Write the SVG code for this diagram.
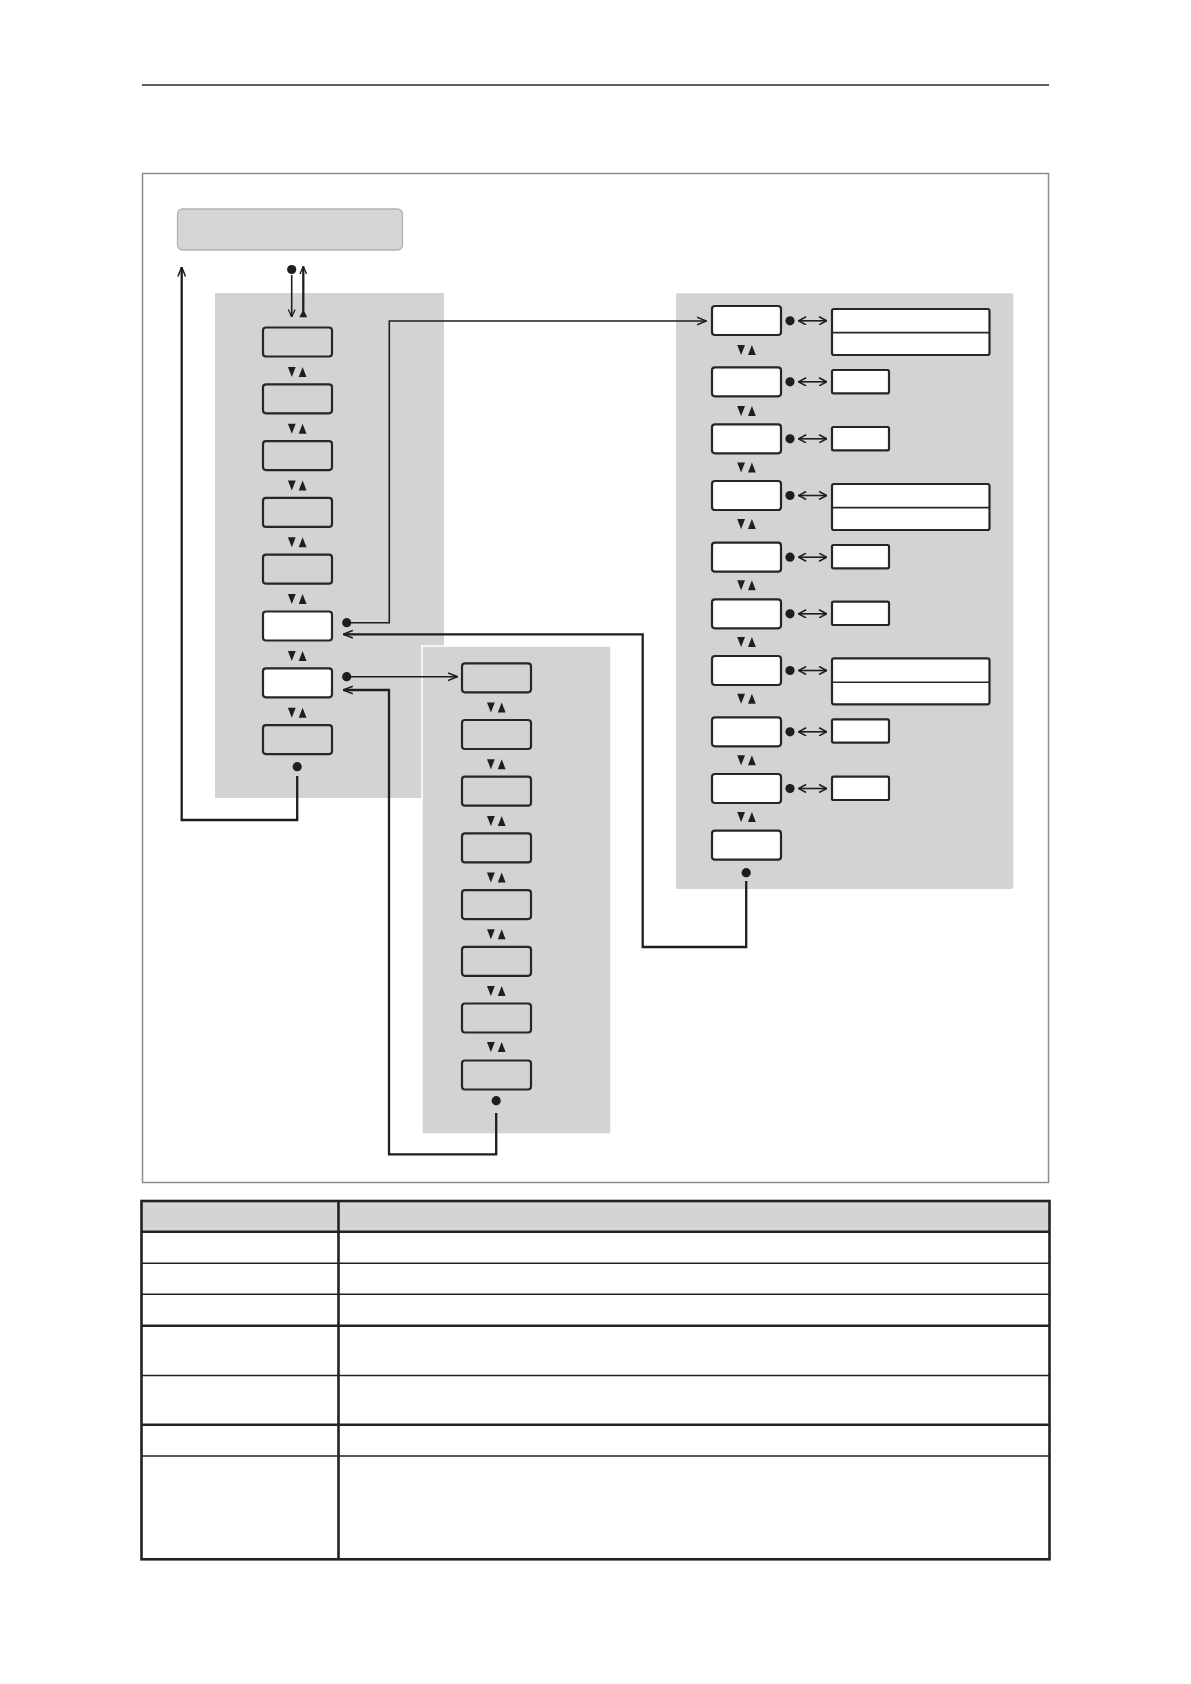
<svg xmlns="http://www.w3.org/2000/svg" xmlns:xlink="http://www.w3.org/1999/xlink" width="1191" height="1684" viewBox="0 0 1191 1684">
<style>
.panel{fill:#d3d3d3;}
.box{fill:#d3d3d3;stroke:#262626;stroke-width:2.2;}
.wbox{fill:#ffffff;stroke:#262626;stroke-width:2.2;}
.opt{fill:#ffffff;stroke:#262626;stroke-width:2.2;}
.ln{fill:none;stroke:#1e1e1e;stroke-width:1.6;}
.lnb{fill:none;stroke:#1e1e1e;stroke-width:2.3;}
.dot{fill:#1e1e1e;}
.tri{fill:#1e1e1e;}
.tl{stroke:#222;stroke-width:1.6;fill:none;}
.tb{stroke:#222;stroke-width:2.6;fill:none;}
</style>
<defs>
<marker id="chev" viewBox="0 0 10 10" refX="9.5" refY="5" markerWidth="10" markerHeight="10" markerUnits="userSpaceOnUse" orient="auto-start-reverse">
<path d="M0,1.2 L9.5,5 L0,8.8" fill="none" stroke="#1e1e1e" stroke-width="1.5"/>
</marker>
<marker id="chevs" viewBox="0 0 10 10" refX="9.5" refY="5" markerWidth="8" markerHeight="8" markerUnits="userSpaceOnUse" orient="auto-start-reverse">
<path d="M0,0.8 L9.5,5 L0,9.2" fill="none" stroke="#1e1e1e" stroke-width="1.7"/>
</marker>
<marker id="chevd" viewBox="0 0 10 10" refX="9.5" refY="5" markerWidth="9" markerHeight="9" markerUnits="userSpaceOnUse" orient="auto-start-reverse">
<path d="M1,0.5 L9.5,5 L1,9.5" fill="none" stroke="#1e1e1e" stroke-width="1.7"/>
</marker>
<g id="ud">
<polygon class="tri" points="-9.3,-5 -1.5,-5 -5.4,5"/>
<polygon class="tri" points="1.5,5 9.3,5 5.4,-5"/>
</g>
</defs>
<rect width="1191" height="1684" fill="#ffffff"/>
<line x1="142" y1="85" x2="1049" y2="85" stroke="#2a2a2a" stroke-width="1.3"/>
<rect x="142.5" y="173.5" width="906" height="1009" fill="none" stroke="#8c8c8c" stroke-width="1.5"/>

<g id="header">
<rect x="177.5" y="209" width="225" height="41" rx="5" fill="#d5d5d5" stroke="#b3b3b3" stroke-width="1.3"/>
</g>

<g id="panels">
<rect id="panel-left" class="panel" x="215" y="293" width="229" height="505"/>
<rect id="panel-mid" class="panel" x="422" y="646" width="189" height="488" stroke="#ffffff" stroke-width="1.5"/>
<rect id="panel-right" class="panel" x="676" y="293.3" width="337.3" height="595.7" rx="2"/>
</g>

<g id="left-column">
<g id="L1"><rect class="box" x="263" y="327.5" width="69" height="29" rx="3"/></g>
<g id="L2"><rect class="box" x="263" y="384.3" width="69" height="29" rx="3"/></g>
<g id="L3"><rect class="box" x="263" y="441.1" width="69" height="29" rx="3"/></g>
<g id="L4"><rect class="box" x="263" y="497.9" width="69" height="29" rx="3"/></g>
<g id="L5"><rect class="box" x="263" y="554.7" width="69" height="29" rx="3"/></g>
<g id="L6"><rect class="wbox" x="263" y="611.5" width="69" height="29" rx="3"/></g>
<g id="L7"><rect class="wbox" x="263" y="668.3" width="69" height="29" rx="3"/></g>
<g id="L8"><rect class="box" x="263" y="725.1" width="69" height="29" rx="3"/></g>
<use href="#ud" x="297.2" y="371.9"/>
<use href="#ud" x="297.2" y="428.7"/>
<use href="#ud" x="297.2" y="485.5"/>
<use href="#ud" x="297.2" y="542.3"/>
<use href="#ud" x="297.2" y="599.1"/>
<use href="#ud" x="297.2" y="655.9"/>
<use href="#ud" x="297.2" y="712.7"/>
</g>

<g id="mid-column">
<g id="M1"><rect class="box" x="462" y="663.3" width="69" height="29" rx="3"/></g>
<g id="M2"><rect class="box" x="462" y="720" width="69" height="29" rx="3"/></g>
<g id="M3"><rect class="box" x="462" y="776.7" width="69" height="29" rx="3"/></g>
<g id="M4"><rect class="box" x="462" y="833.4" width="69" height="29" rx="3"/></g>
<g id="M5"><rect class="box" x="462" y="890.1" width="69" height="29" rx="3"/></g>
<g id="M6"><rect class="box" x="462" y="946.8" width="69" height="29" rx="3"/></g>
<g id="M7"><rect class="box" x="462" y="1003.5" width="69" height="29" rx="3"/></g>
<g id="M8"><rect class="box" x="462" y="1060.5" width="69" height="29" rx="3"/></g>
<use href="#ud" x="496.3" y="707.5"/>
<use href="#ud" x="496.3" y="764.2"/>
<use href="#ud" x="496.3" y="820.9"/>
<use href="#ud" x="496.3" y="877.6"/>
<use href="#ud" x="496.3" y="934.3"/>
<use href="#ud" x="496.3" y="991"/>
<use href="#ud" x="496.3" y="1047"/>
</g>

<g id="right-column">
<g id="R1"><rect class="wbox" x="712" y="306" width="69" height="29" rx="3"/></g>
<g id="R2"><rect class="wbox" x="712" y="367.3" width="69" height="29" rx="3"/></g>
<g id="R3"><rect class="wbox" x="712" y="424.3" width="69" height="29" rx="3"/></g>
<g id="R4"><rect class="wbox" x="712" y="481" width="69" height="29" rx="3"/></g>
<g id="R5"><rect class="wbox" x="712" y="542.7" width="69" height="29" rx="3"/></g>
<g id="R6"><rect class="wbox" x="712" y="599.3" width="69" height="29" rx="3"/></g>
<g id="R7"><rect class="wbox" x="712" y="656" width="69" height="29" rx="3"/></g>
<g id="R8"><rect class="wbox" x="712" y="717.3" width="69" height="29" rx="3"/></g>
<g id="R9"><rect class="wbox" x="712" y="774" width="69" height="29" rx="3"/></g>
<g id="R10"><rect class="wbox" x="712" y="830.7" width="69" height="29" rx="3"/></g>
<use href="#ud" x="746.5" y="350"/>
<use href="#ud" x="746.5" y="411"/>
<use href="#ud" x="746.5" y="467.5"/>
<use href="#ud" x="746.5" y="524"/>
<use href="#ud" x="746.5" y="585.3"/>
<use href="#ud" x="746.5" y="642"/>
<use href="#ud" x="746.5" y="698.7"/>
<use href="#ud" x="746.5" y="760.3"/>
<use href="#ud" x="746.5" y="817"/>
</g>

<g id="options">
<g id="O1"><rect class="opt" x="832" y="309" width="157.5" height="46" rx="2"/><line x1="832" y1="332.7" x2="989.5" y2="332.7" stroke="#262626" stroke-width="1.8"/></g>
<g id="O2"><rect class="opt" x="832" y="370" width="57" height="23.3" rx="1.5"/></g>
<g id="O3"><rect class="opt" x="832" y="427" width="57" height="23.3" rx="1.5"/></g>
<g id="O4"><rect class="opt" x="832" y="484" width="157.5" height="46" rx="2"/><line x1="832" y1="507.7" x2="989.5" y2="507.7" stroke="#262626" stroke-width="1.8"/></g>
<g id="O5"><rect class="opt" x="832" y="545" width="57" height="23.3" rx="1.5"/></g>
<g id="O6"><rect class="opt" x="832" y="601.7" width="57" height="23.3" rx="1.5"/></g>
<g id="O7"><rect class="opt" x="832" y="658.3" width="157.5" height="46" rx="2"/><line x1="832" y1="682.3" x2="989.5" y2="682.3" stroke="#262626" stroke-width="1.4"/></g>
<g id="O8"><rect class="opt" x="832" y="719.3" width="57" height="23.3" rx="1.5"/></g>
<g id="O9"><rect class="opt" x="832" y="776.7" width="57" height="23.3" rx="1.5"/></g>
</g>

<g id="connectors">
<circle class="dot" cx="291.7" cy="269.5" r="4.6"/>
<line class="ln" x1="291.7" y1="275" x2="291.7" y2="317" marker-end="url(#chevs)"/>
<polygon class="tri" points="299.3,317.3 307.3,317.3 303.3,309.5"/>
<line class="lnb" x1="303.3" y1="311" x2="303.3" y2="266.5" marker-end="url(#chevs)"/>
<circle class="dot" cx="297.2" cy="766.7" r="4.6"/>
<path class="lnb" d="M297.2,776 V820 H181.7 V267" marker-end="url(#chev)"/>
<circle class="dot" cx="346.7" cy="622.7" r="4.6"/>
<path class="ln" d="M351,622.7 H389.3 V321 H706.5" marker-end="url(#chev)"/>
<circle class="dot" cx="746.2" cy="872.7" r="4.6"/>
<path class="lnb" d="M746.2,881 V947 H642.7 V634.3 H343.3" marker-end="url(#chev)"/>
<circle class="dot" cx="346.7" cy="676.7" r="4.6"/>
<path class="ln" d="M351,676.7 H457.5" marker-end="url(#chev)"/>
<circle class="dot" cx="496.2" cy="1100.7" r="4.6"/>
<path class="lnb" d="M496.2,1113 V1154.3 H389 V690 H343.3" marker-end="url(#chev)"/>
<circle class="dot" cx="790" cy="320.8" r="4.6"/>
<line class="ln" x1="798.5" y1="320.8" x2="826.7" y2="320.8" marker-start="url(#chevd)" marker-end="url(#chevd)"/>
<circle class="dot" cx="790" cy="381.8" r="4.6"/>
<line class="ln" x1="798.5" y1="381.8" x2="826.7" y2="381.8" marker-start="url(#chevd)" marker-end="url(#chevd)"/>
<circle class="dot" cx="790" cy="438.8" r="4.6"/>
<line class="ln" x1="798.5" y1="438.8" x2="826.7" y2="438.8" marker-start="url(#chevd)" marker-end="url(#chevd)"/>
<circle class="dot" cx="790" cy="495.5" r="4.6"/>
<line class="ln" x1="798.5" y1="495.5" x2="826.7" y2="495.5" marker-start="url(#chevd)" marker-end="url(#chevd)"/>
<circle class="dot" cx="790" cy="557.2" r="4.6"/>
<line class="ln" x1="798.5" y1="557.2" x2="826.7" y2="557.2" marker-start="url(#chevd)" marker-end="url(#chevd)"/>
<circle class="dot" cx="790" cy="613.8" r="4.6"/>
<line class="ln" x1="798.5" y1="613.8" x2="826.7" y2="613.8" marker-start="url(#chevd)" marker-end="url(#chevd)"/>
<circle class="dot" cx="790" cy="670.5" r="4.6"/>
<line class="ln" x1="798.5" y1="670.5" x2="826.7" y2="670.5" marker-start="url(#chevd)" marker-end="url(#chevd)"/>
<circle class="dot" cx="790" cy="731.8" r="4.6"/>
<line class="ln" x1="798.5" y1="731.8" x2="826.7" y2="731.8" marker-start="url(#chevd)" marker-end="url(#chevd)"/>
<circle class="dot" cx="790" cy="788.5" r="4.6"/>
<line class="ln" x1="798.5" y1="788.5" x2="826.7" y2="788.5" marker-start="url(#chevd)" marker-end="url(#chevd)"/>
</g>

<g id="table">
<rect x="141.5" y="1201" width="908" height="30.7" fill="#d4d4d4"/>
<line class="tl" x1="141.5" y1="1263.3" x2="1049.5" y2="1263.3"/>
<line class="tl" x1="141.5" y1="1294.3" x2="1049.5" y2="1294.3"/>
<line class="tl" x1="141.5" y1="1375.5" x2="1049.5" y2="1375.5"/>
<line class="tl" x1="141.5" y1="1456" x2="1049.5" y2="1456"/>
<line class="tb" x1="141.5" y1="1231.7" x2="1049.5" y2="1231.7"/>
<line class="tb" x1="141.5" y1="1325.7" x2="1049.5" y2="1325.7"/>
<line class="tb" x1="141.5" y1="1424.7" x2="1049.5" y2="1424.7"/>
<line class="tb" x1="338.5" y1="1201" x2="338.5" y2="1559.3"/>
<rect class="tb" x="141.5" y="1201" width="908" height="358.3"/>
</g>
</svg>
